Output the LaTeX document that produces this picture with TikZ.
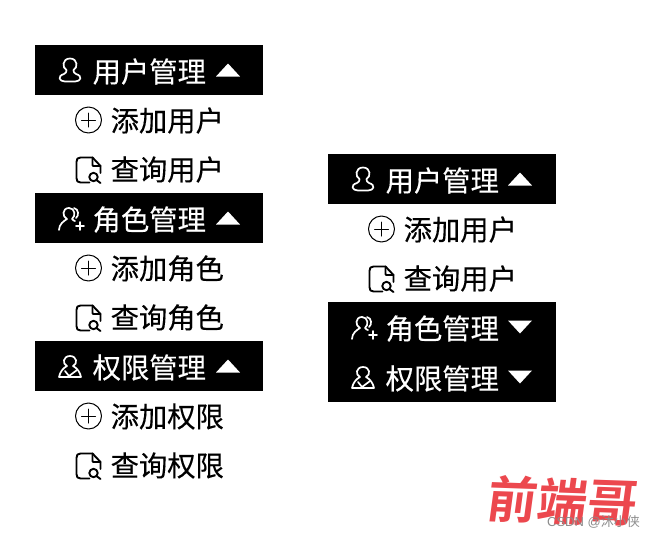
\documentclass[tikz,border=0pt]{standalone}
\usepackage{fontspec}
\newfontfamily\cjk[FakeBold=0.25]{Noto Sans CJK SC}
\newfontfamily\cjkplain{Noto Sans CJK SC}
\newfontfamily\cjkb{Noto Sans CJK SC Bold}
\setsansfont{Liberation Sans}
\tikzset{
 x=1pt,y=-1pt,
 band/.style={fill=black,draw=none,minimum width=228pt,minimum height=50pt,inner sep=0pt,anchor=north west},
 lab/.style={font=\cjk\fontsize{28.3}{28.3}\selectfont,inner sep=0pt,anchor=west},
 headlab/.style={lab,text=white},
 itemlab/.style={lab,text=black},
 iconw/.style={draw=white,line width=1.7pt,line cap=round,line join=round},
 iconk/.style={draw=black,line width=1.5pt,line cap=round,line join=round},
}
% icons: origin is the centre of the icon
\newcommand{\icouser}[2]{\begin{scope}[shift={(#1,#2)},iconw]
 \draw (0,-11.5) .. controls (-8,-11.5) and (-8,-2) .. (-3.5,0) .. controls (-3.5,2) and (-4,3) .. (-6,4) .. controls (-13,6) and (-11,11.5) .. (-5,11.5) -- (5,11.5) .. controls (11,11.5) and (13,6) .. (6,4) .. controls (4,3) and (3.5,2) .. (3.5,0) .. controls (8,-2) and (8,-11.5) .. (0,-11.5);
\end{scope}}
\newcommand{\icoadd}[2]{\begin{scope}[shift={(#1,#2)},iconw]
 \draw (-1,-11) .. controls (-8,-11) and (-8,-2) .. (-3,0) .. controls (-6,2) and (-11,5) .. (-11,11);
 \draw (-1,-11) .. controls (5,-11) and (6,-3) .. (2,0) .. controls (3,1) and (4,2) .. (5,2);
 \draw (4,-11) .. controls (9,-10) and (9,-3) .. (6,-1);
 \draw (6,7) -- (14,7) (10,3) -- (10,11);
\end{scope}}
\newcommand{\icocheck}[2]{\begin{scope}[shift={(#1,#2)},iconw]
 \draw (0,-11) .. controls (-7,-11) and (-8,-3) .. (-3,-1) .. controls (-7,1) and (-10,5) .. (-11,10) -- (11,10) .. controls (10,5) and (7,1) .. (3,-1) .. controls (8,-3) and (7,-11) .. (0,-11);
 \draw (-5,4) -- (-1,9) -- (7,3);
\end{scope}}
\newcommand{\icoplus}[2]{\begin{scope}[shift={(#1,#2)},iconk,line width=1pt]
 \draw (0,0) circle[radius=13];
 \draw (-7,0) -- (7,0) (0,-7) -- (0,7);
\end{scope}}
\newcommand{\icofile}[2]{\begin{scope}[shift={(#1,#2)},iconk,line width=1.9pt]
 \draw (1,12.5) -- (-8,12.5) .. controls (-11,12.5) and (-12,11) .. (-12,8) -- (-12,-8) .. controls (-12,-11) and (-11,-12.5) .. (-8,-12.5) -- (4,-12.5) -- (12,-4) -- (12,3);
 \draw (4,-12.5) -- (4,-5) .. controls (4,-4) and (5,-4) .. (6,-4) -- (12,-4);
 \draw (5,7) circle[radius=4.2];
 \draw (8,10) -- (12,13);
\end{scope}}
\newcommand{\triup}[2]{\fill[white] (#1-12,#2+6.5) -- (#1,#2-6.5) -- (#1+12,#2+6.5) -- cycle;}
\newcommand{\tridn}[2]{\fill[white] (#1-12,#2-6.5) -- (#1,#2+6.5) -- (#1+12,#2-6.5) -- cycle;}
\begin{document}
\begin{tikzpicture}
\useasboundingbox (0,0) rectangle (654,539);
% left menu
\node[band] (h1) at (35,45) {};
\node[band] (h2) at (35,193) {};
\node[band] (h3) at (35,341) {};
\icouser{70}{70}
\icoadd{70}{219}
\icocheck{70}{367}
\node[headlab] (h1t) at (92.5,71.5) {用户管理};
\node[headlab] (h2t) at (92.5,219.5) {角色管理};
\node[headlab] (h3t) at (92.5,367.5) {权限管理};
\triup{228}{70}
\triup{228}{218}
\triup{228}{366}
\icoplus{88.5}{120}
\icofile{88.5}{170}
\icoplus{88.5}{268}
\icofile{88.5}{318}
\icoplus{88.5}{416}
\icofile{88.5}{466}
\node[itemlab] (a1) at (110.5,120.5) {添加用户};
\node[itemlab] (q1) at (110.5,169.5) {查询用户};
\node[itemlab] (a2) at (110.5,268.5) {添加角色};
\node[itemlab] (q2) at (110.5,317.5) {查询角色};
\node[itemlab] (a3) at (110.5,416.5) {添加权限};
\node[itemlab] (q3) at (110.5,465.5) {查询权限};
% right menu
\node[band] (r1) at (328,154) {};
\node[band,minimum height=100pt] (r2) at (328,302) {};
\icouser{363}{179}
\icoadd{363}{328}
\icocheck{363}{378}
\node[headlab] (r1t) at (385.5,180.5) {用户管理};
\node[headlab] (r2t) at (385.5,328.5) {角色管理};
\node[headlab] (r3t) at (385.5,378.5) {权限管理};
\triup{520}{179}
\tridn{520}{327}
\tridn{520}{377}
\icoplus{381.5}{229}
\icofile{381.5}{279}
\node[itemlab] (ra) at (403.5,229.5) {添加用户};
\node[itemlab] (rq) at (403.5,278.5) {查询用户};
% watermark
\node[font=\cjkb\fontsize{50}{50}\selectfont,text={rgb,255:red,236;green,72;blue,78},inner sep=0pt,xslant=0.1,rotate=-2] (wm) at (563,501) {前端哥};
\node[font=\cjkplain\fontsize{13}{13}\selectfont,text={rgb,255:red,140;green,140;blue,140},inner sep=0pt,anchor=east] (wt) at (640,522) {\sffamily CSDN @\cjkplain 沐小侠};
\end{tikzpicture}
\end{document}
